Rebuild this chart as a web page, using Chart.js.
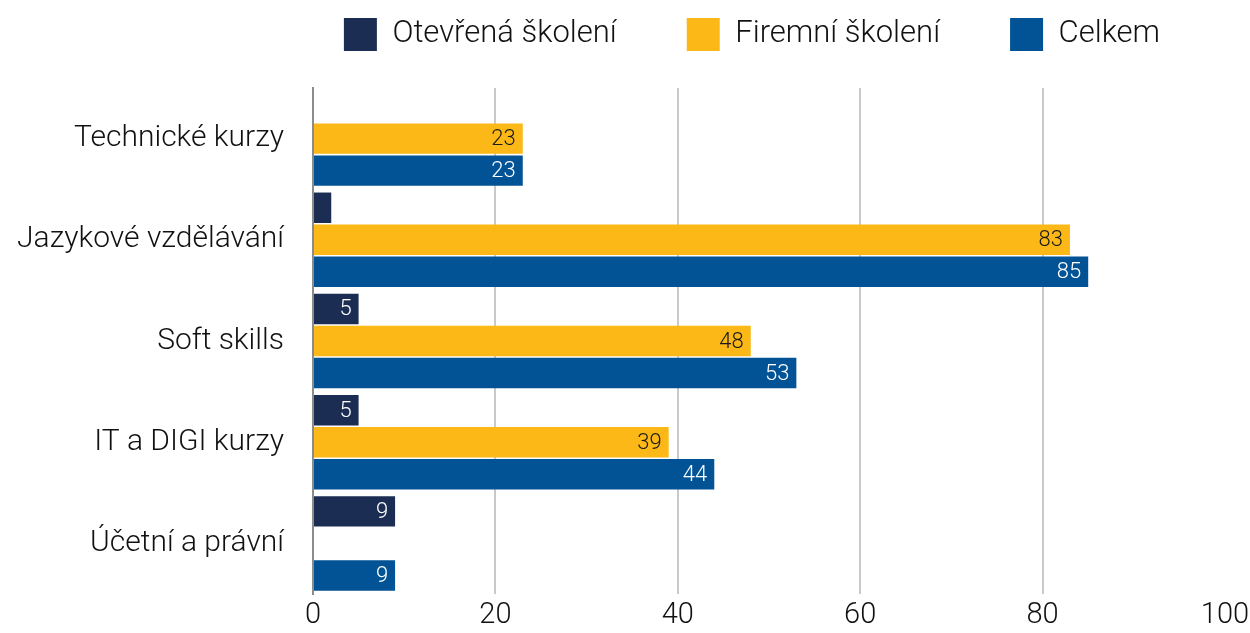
<!DOCTYPE html>
<html>
<head>
<meta charset="utf-8">
<script src="https://cdn.jsdelivr.net/npm/chart.js@4"></script>
<style>
  html, body { margin: 0; padding: 0; background: #fff; }
  #wrap { width: 1250px; height: 633px; }
</style>
</head>
<body>
<div id="wrap"><canvas id="trainingChart"></canvas></div>
<script>
// kategorie kurzů a počty
const categories = ['Technické kurzy', 'Jazykové vzdělávání', 'Soft skills', 'IT a DIGI kurzy', 'Účetní a právní'];
const otevrena = [null, 2, 5, 5, 9];
const firemni = [23, 83, 48, 39, null];
const celkem = [23, 85, 53, 44, 9];
const xTicks = [0, 20, 40, 60, 80, 100];

const FONT = 'Roboto';
const LEGEND_PAD = 70;

// hodnoty uvnitř konce sloupce
const barLabels = {
  id: 'barLabels',
  afterDatasetsDraw(chart) {
    const ctx = chart.ctx;
    ctx.save();
    ctx.font = '300 22px ' + FONT;
    ctx.textAlign = 'right';
    ctx.textBaseline = 'middle';
    chart.data.datasets.forEach((ds, i) => {
      const meta = chart.getDatasetMeta(i);
      meta.data.forEach((bar, j) => {
        const v = ds.data[j];
        if (v == null) return;
        if (bar.x - bar.base < 28) return;
        ctx.fillStyle = i === 1 ? '#1a1a1a' : '#ffffff';
        ctx.fillText(String(v), bar.x - 7, bar.y + 1);
      });
    });
    ctx.restore();
  }
};

// legenda posunutá nad plochu grafu
const legendPlace = {
  id: 'legendPlace',
  beforeInit(chart) {
    const origFit = chart.legend.fit;
    chart.legend.fit = function() {
      origFit.bind(chart.legend)();
      this.height = 88;
    };
  },
  afterLayout(chart) {
    const lg = chart.legend;
    lg.left = 204;
    lg.right = 1300;
    lg.width = lg.right - lg.left;
    lg.top = 18 - LEGEND_PAD;
  }
};

const ctx1 = document.getElementById('trainingChart');
new Chart(ctx1.getContext('2d'), {
  type: 'bar',
  data: {
    labels: categories,
    datasets: [
      { label: 'Otevřená školení', data: otevrena, backgroundColor: '#1b2d52' },
      { label: 'Firemní školení', data: firemni, backgroundColor: '#fbb817' },
      { label: 'Celkem', data: celkem, backgroundColor: '#025396' }
    ]
  },
  options: {
    indexAxis: 'y',
    responsive: true,
    maintainAspectRatio: false,
    animation: false,
    categoryPercentage: 0.95,
    barPercentage: 0.95,
    layout: { padding: { left: 0, right: 25, top: 0, bottom: 0 } },
    scales: {
      x: {
        min: 0,
        max: 100,
        afterBuildTicks: axis => { axis.ticks = xTicks.map(v => ({ value: v })); },
        afterFit: axis => {
          axis.height = 39;
          axis.paddingLeft = 0;
          axis.paddingRight = 0;
        },
        grid: {
          drawTicks: false,
          lineWidth: 2,
          color: c => (c.tick && (c.tick.value === 0 || c.tick.value === 100)) ? 'rgba(0,0,0,0)' : '#c9c9c9'
        },
        border: { display: false },
        ticks: {
          padding: 4,
          color: '#111',
          font: { family: FONT, size: 29, weight: 300 }
        }
      },
      y: {
        afterFit: axis => {
          axis.width = 313;
          axis.paddingTop = 0;
          axis.paddingBottom = 0;
        },
        grid: { display: false, drawTicks: false },
        border: { display: true, color: '#8c8c8c', width: 2 },
        ticks: {
          padding: 29,
          color: '#111',
          font: { family: FONT, size: 30, weight: 300 }
        }
      }
    },
    plugins: {
      legend: {
        position: 'top',
        labels: {
          boxWidth: 33,
          boxHeight: 33,
          padding: LEGEND_PAD,
          color: '#111',
          font: { family: FONT, size: 31, weight: 300 }
        }
      },
      tooltip: { enabled: false }
    }
  },
  plugins: [barLabels, legendPlace]
});
</script>
</body>
</html>
